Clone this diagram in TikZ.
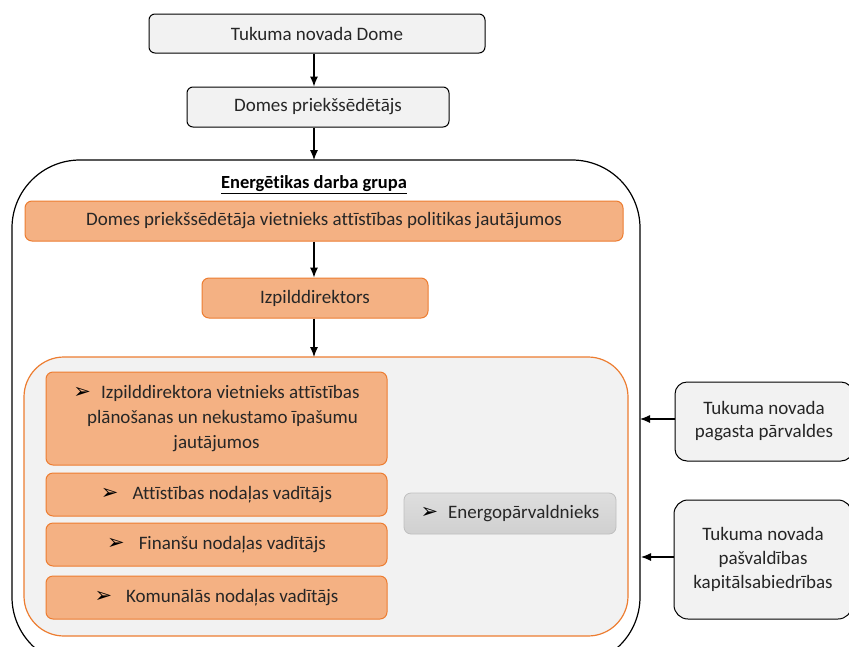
\documentclass[tikz,border=0pt]{standalone}
\usepackage{fontspec}
\setmainfont{Carlito}[Ligatures=NoCommon]
\newfontfamily\dv{DejaVu Sans}
\usetikzlibrary{arrows.meta}
\definecolor{lgray}{HTML}{F2F2F2}
\definecolor{orfill}{HTML}{F4B183}
\definecolor{ordraw}{HTML}{ED7D31}
\definecolor{grfill}{HTML}{D0D0D0}
\definecolor{grdraw}{HTML}{BFBFBF}
\definecolor{txt}{HTML}{262626}
\newcommand{\blt}{{\dv\fontsize{21}{15}\selectfont\color{black}➢}\hspace{10pt}}
\begin{document}
\begin{tikzpicture}[x=1pt,y=-1pt,
  every node/.style={font=\fontsize{19}{23}\selectfont, text=txt},
  graybox/.style={draw=black, line width=1pt, fill=lgray, rounded corners=6pt, inner sep=0pt},
  orbox/.style={draw=ordraw, line width=1pt, fill=orfill, rounded corners=7pt, inner sep=0pt},
  enbox/.style={draw=grdraw, line width=0.8pt, top color=grfill!70, bottom color=grfill, rounded corners=7pt, inner sep=0pt},
  arr/.style={-{Latex[length=10pt,width=8pt]}, line width=1.1pt, black}]
\useasboundingbox (0,0) rectangle (849,646);
\begin{scope}
\clip (0,0) rectangle (849,646);
% big group box
\draw[line width=1.2pt, fill=white, rounded corners=68pt] (12,160) rectangle (640,665);
\node[font=\bfseries\fontsize{18.5}{22}\selectfont, text=black] (title) at (314,185) {\underline{Energētikas darba grupa}};
% inner box
\draw[draw=ordraw, line width=1.2pt, fill=lgray, rounded corners=40pt] (24,357) rectangle (628,636);
\end{scope}
\coordinate (bigtop) at (314,160);
\coordinate (inntop) at (314,357);
\coordinate (bigr1) at (640,419);
\coordinate (bigr2) at (641,557);

\node[graybox, minimum width=336pt, minimum height=39pt] (dome) at (317,33.5) {Tukuma novada Dome};
\node[graybox, minimum width=262pt, minimum height=40pt] (pr) at (318,107) {Domes priekšsēdētājs};
\node[orbox, minimum width=598pt, minimum height=40pt] (viet) at (324,221) {Domes priekšsēdētāja vietnieks attīstības politikas jautājumos};
\node[orbox, minimum width=226pt, minimum height=40pt] (izp) at (315,298) {Izpilddirektors};
\node[orbox, minimum width=341pt, minimum height=93pt, align=center, font=\fontsize{19}{25}\selectfont] (a) at (216.5,418.5) {\blt Izpilddirektora vietnieks attīstības\\\hspace*{12pt}plānošanas un nekustamo īpašumu\\jautājumos};
\node[orbox, minimum width=341pt, minimum height=43pt] (b) at (216.5,494.5) {\blt\hspace{4pt}Attīstības nodaļas vadītājs};
\node[orbox, minimum width=341pt, minimum height=43pt] (c) at (216.5,544.5) {\blt\hspace{4pt}Finanšu nodaļas vadītājs};
\node[orbox, minimum width=341pt, minimum height=43pt] (d) at (216.5,597.5) {\blt\hspace{4pt}Komunālās nodaļas vadītājs};
\node[enbox, minimum width=212pt, minimum height=41pt] (en) at (510,513.5) {\blt Energopārvaldnieks};
\node[graybox, rounded corners=12pt, minimum width=178pt, minimum height=79pt, align=center, font=\fontsize{19}{23}\selectfont] (r1) at (764,421.5) {Tukuma novada\\pagasta pārvaldes};
\node[graybox, rounded corners=14pt, minimum width=178pt, minimum height=119pt, align=center, font=\fontsize{19}{24}\selectfont] (r2) at (763,559.5) {Tukuma novada\\pašvaldības\\kapitālsabiedrības};

\draw[arr] (dome.south -| 314,0) -- (pr.north -| 314,0);
\draw[arr] (pr.south -| 314,0) -- (bigtop);
\draw[arr] (viet.south -| 314,0) -- (izp.north -| 314,0);
\draw[arr] (izp.south -| 314,0) -- (inntop);
\draw[arr] (r1.west |- bigr1) -- (bigr1);
\draw[arr] (r2.west |- bigr2) -- (bigr2);
\end{tikzpicture}
\end{document}
